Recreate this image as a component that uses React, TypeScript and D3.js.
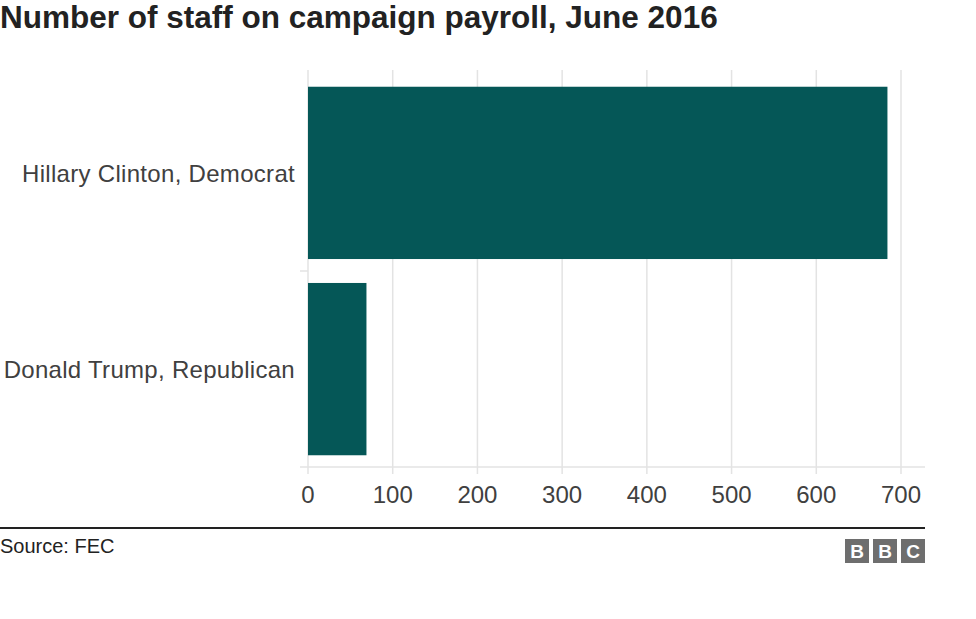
import React, { useEffect, useRef } from "react";
import * as d3 from "d3";

const candidates = ["Hillary Clinton, Democrat", "Donald Trump, Republican"];
const staff = [684, 69];
const xTicks = [0, 100, 200, 300, 400, 500, 600, 700];

const W = 976;
const H = 619;
const FONT = "Liberation Sans, Arial, sans-serif";

export default function App() {
    const ref = useRef<SVGSVGElement>(null);

    useEffect(() => {
        const svg = d3.select(ref.current);
        svg.selectAll("*").remove();

        const x = d3.scaleLinear().domain([0, 700]).range([308, 901]);
        const y = d3.scaleBand<string>()
            .domain(candidates)
            .range([73, 469])
            .paddingInner(0.122)
            .paddingOuter(0.07);

        svg.append("text")
            .text("Number of staff on campaign payroll, June 2016")
            .attr("x", 0)
            .attr("y", 28)
            .attr("font-family", FONT)
            .attr("font-weight", "bold")
            .attr("font-size", "31.5px")
            .attr("fill", "#222");

        // gridlines
        svg.selectAll(".grid")
            .data(xTicks)
            .enter()
            .append("line")
            .attr("x1", d => x(d))
            .attr("x2", d => x(d))
            .attr("y1", 70)
            .attr("y2", 474)
            .attr("stroke", "#e3e3e3")
            .attr("stroke-width", 1.5);

        // bottom axis line
        svg.append("line")
            .attr("x1", 300).attr("x2", 925)
            .attr("y1", 467).attr("y2", 467)
            .attr("stroke", "#e3e3e3")
            .attr("stroke-width", 1.5);

        // separator tick between bands
        svg.append("line")
            .attr("x1", 300).attr("x2", 308)
            .attr("y1", 271).attr("y2", 271)
            .attr("stroke", "#e3e3e3")
            .attr("stroke-width", 1.5);

        svg.selectAll(".bar")
            .data(staff)
            .enter()
            .append("rect")
            .attr("x", x(0))
            .attr("y", (d, i) => y(candidates[i]) as number)
            .attr("width", d => x(d) - x(0))
            .attr("height", y.bandwidth())
            .attr("fill", "#055757");

        svg.selectAll(".cat")
            .data(candidates)
            .enter()
            .append("text")
            .text(d => d)
            .attr("x", 295)
            .attr("y", d => (y(d) as number) + y.bandwidth() / 2 + 9)
            .attr("text-anchor", "end")
            .attr("font-family", FONT)
            .attr("font-size", "24px")
            .attr("letter-spacing", "0.3px")
            .attr("fill", "#404040");

        svg.selectAll(".tick")
            .data(xTicks)
            .enter()
            .append("text")
            .text(d => d)
            .attr("x", d => x(d))
            .attr("y", 503)
            .attr("text-anchor", "middle")
            .attr("font-family", FONT)
            .attr("font-size", "24px")
            .attr("fill", "#404040");

        svg.append("line")
            .attr("x1", 0).attr("x2", 925)
            .attr("y1", 528).attr("y2", 528)
            .attr("stroke", "#222")
            .attr("stroke-width", 2);

        svg.append("text")
            .text("Source: FEC")
            .attr("x", 0)
            .attr("y", 553)
            .attr("font-family", FONT)
            .attr("font-size", "20px")
            .attr("fill", "#222");

        const logo = svg.append("g");
        ["B", "B", "C"].forEach((c, i) => {
            const lx = 845 + i * 28;
            logo.append("rect")
                .attr("x", lx).attr("y", 539)
                .attr("width", 24).attr("height", 24)
                .attr("fill", "#6e6e6e");
            logo.append("text")
                .text(c)
                .attr("x", lx + 12).attr("y", 558)
                .attr("text-anchor", "middle")
                .attr("font-family", FONT)
                .attr("font-weight", "bold")
                .attr("font-size", "19px")
                .attr("fill", "#fff");
        });
    }, []);

    return <svg ref={ref} width={W} height={H}
        style={{ position: "absolute", left: 0, top: 0, background: "#fff" }}></svg>;
}
